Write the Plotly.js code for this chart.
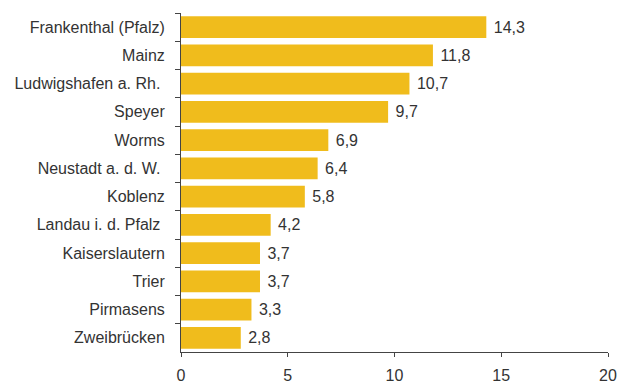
<!DOCTYPE html>
<html><head><meta charset="utf-8">
<script src="https://cdn.plot.ly/plotly-3.0.1.min.js"></script>
<style>html,body{margin:0;padding:0;background:#fff}</style>
</head><body>
<div id="chart" style="width:620px;height:383px"></div>
<script>
const cities = ["Frankenthal (Pfalz)", "Mainz", "Ludwigshafen a. Rh.\u00A0", "Speyer", "Worms", "Neustadt a. d. W.\u00A0", "Koblenz", "Landau i. d. Pfalz\u00A0", "Kaiserslautern", "Trier", "Pirmasens", "Zweibrücken"];
const values = [14.3, 11.8, 10.7, 9.7, 6.9, 6.4, 5.8, 4.2, 3.7, 3.7, 3.3, 2.8];
const xTicks = [0, 5, 10, 15, 20];

const labels = values.map(v => "\u00A0" + v.toFixed(1).replace(".", ","));

Plotly.newPlot("chart", [{
  type: "bar",
  orientation: "h",
  y: cities,
  x: values,
  text: labels,
  textposition: "outside",
  cliponaxis: false,
  textfont: {family: "Liberation Sans, Arial, sans-serif", size: 16, color: "#333333"},
  marker: {color: "#F0BC1C"},
  hoverinfo: "none"
}], {
  width: 620, height: 383,
  margin: {l: 181, r: 12, t: 13, b: 31},
  paper_bgcolor: "#ffffff", plot_bgcolor: "#ffffff",
  bargap: 0.23,
  showlegend: false,
  separators: ",.",
  font: {family: "Liberation Sans, Arial, sans-serif", size: 16, color: "#333333"},
  xaxis: {
    range: [0, 20], tickvals: xTicks, ticktext: xTicks.map(String),
    showgrid: false, zeroline: false, showline: true, linecolor: "#444", linewidth: 1,
    ticks: "outside", ticklen: 4, tickcolor: "#444", ticklabelstandoff: 5, fixedrange: true
  },
  yaxis: {
    autorange: "reversed", showgrid: false, zeroline: false,
    showline: true, linecolor: "#444", linewidth: 1,
    ticks: "outside", ticklen: 5, tickcolor: "#444", tickson: "boundaries",
    ticklabelstandoff: 12, fixedrange: true
  }
}, {displayModeBar: false, staticPlot: true});
</script>
</body></html>
